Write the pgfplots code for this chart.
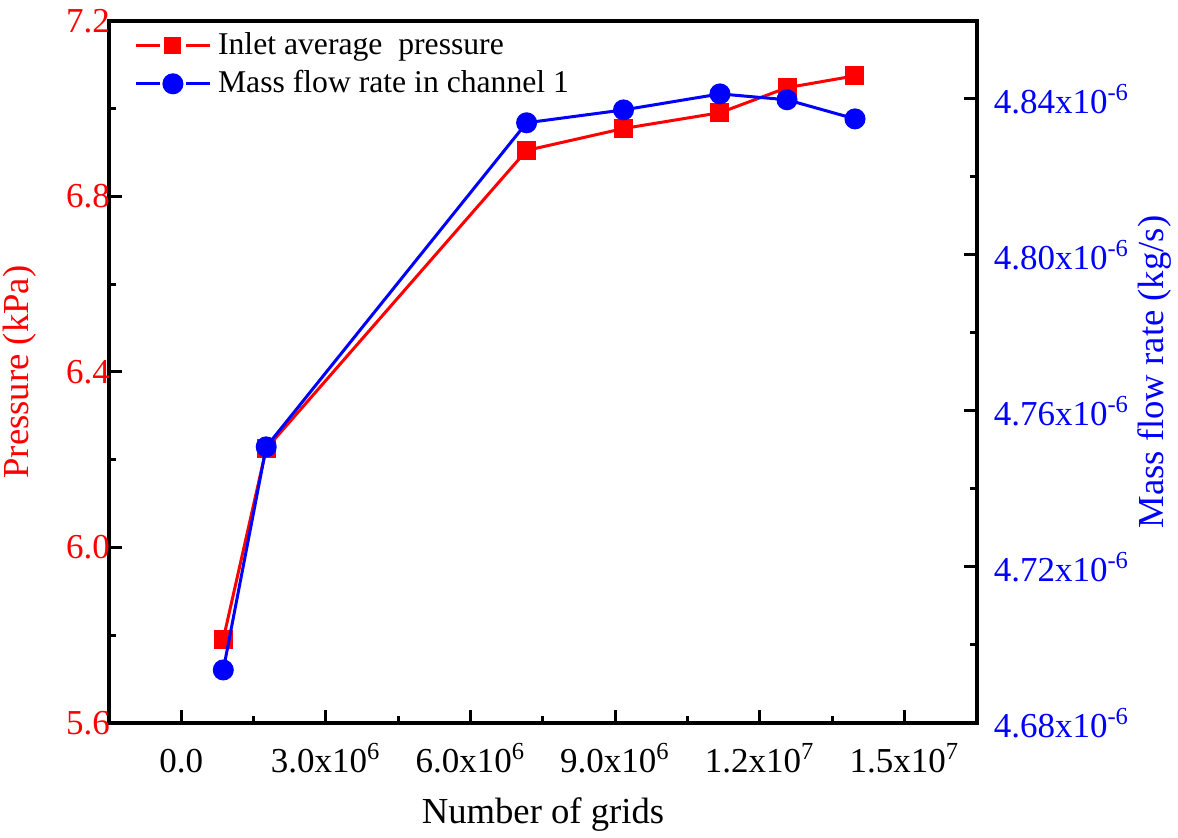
\documentclass[border=0pt]{standalone}
\usepackage{fontspec}
\setmainfont{Liberation Serif}
\usepackage{pgfplots}
\pgfplotsset{compat=1.18}
\definecolor{pred}{RGB}{255,0,0}
\definecolor{mblue}{RGB}{0,0,255}

\begin{document}
\begin{tikzpicture}
\pgfplotsset{
  common/.style={
    scale only axis, width=260.4pt, height=210.6pt,
    xmin=-1.5e6, xmax=16.5e6,
    tick align=inside,
    major tick length=4pt, minor tick length=2.2pt,
    every tick/.style={black, line width=0.9pt},
    axis line style={line width=1pt},
    tick label style={font=\fontsize{10.5}{12}\selectfont},
    label style={font=\fontsize{11}{13}\selectfont},
  },
}
% left axis: pressure
\begin{axis}[common, name=main,
  ymin=5.6, ymax=7.2,
  ytick={5.6,6.0,6.4,6.8,7.2},
  yticklabels={5.6,6.0,6.4,6.8,7.2},
  minor y tick num=1,
  xtick={0,3e6,6e6,9e6,12e6,15e6},
  xticklabels={0.0, 3.0x10\textsuperscript{6}, 6.0x10\textsuperscript{6}, 9.0x10\textsuperscript{6}, 1.2x10\textsuperscript{7}, 1.5x10\textsuperscript{7}},
  minor x tick num=1,
  xtick pos=lower, ytick pos=left,
  scaled x ticks=false,
  yticklabel style={pred, anchor=east, xshift=3.8pt},
  xticklabel style={anchor=base, yshift=-15pt},
  xlabel={Number of grids},
  ylabel={Pressure (kPa)},
  xlabel style={at={(axis description cs:0.5,-0.131)}, anchor=center},
  ylabel style={pred, at={(axis description cs:-0.1025,0.5)}, anchor=center},
]
\addplot[pred, line width=0.9pt, mark=square*, mark size=2.4pt] coordinates {
  (0.87e6,5.791) (1.76e6,6.225) (7.16e6,6.905) (9.17e6,6.955)
  (11.17e6,6.991) (12.56e6,7.048) (13.97e6,7.075)
};
\end{axis}
% right axis: mass flow rate
\begin{axis}[common,
  ymin=4.68e-6, ymax=4.86e-6,
  axis y line*=right, axis x line=none,
  ytick={4.68e-6,4.72e-6,4.76e-6,4.80e-6,4.84e-6},
  yticklabels={4.68x10\textsuperscript{-6}, 4.72x10\textsuperscript{-6}, 4.76x10\textsuperscript{-6}, 4.80x10\textsuperscript{-6}, 4.84x10\textsuperscript{-6}},
  minor y tick num=1,
  scaled y ticks=false,
  yticklabel style={mblue, xshift=1.5pt},
  ylabel={Mass flow rate (kg/s)},
  ylabel style={mblue, at={(axis description cs:1.2051,0.5)}, anchor=center},
  legend style={draw=none, fill=none, font=\fontsize{9.5}{11}\selectfont,
    at={(axis description cs:0.017,1.004)}, anchor=north west,
    legend cell align=left, row sep=-0.7pt,
    nodes={inner xsep=2pt}},
  legend image code/.code={
    \draw (0pt,0pt) -- (7.2pt,0pt);
    \draw (15pt,0pt) -- (22.2pt,0pt);
    \draw plot coordinates {(11.1pt,0pt)};
  },
]
\addlegendimage{pred, line width=0.9pt, mark=square*, mark size=2.1pt}
\addlegendentry{Inlet average\ \ pressure}
\addplot[mblue, line width=0.9pt, mark=*, mark size=2.7pt] coordinates {
  (0.87e6,4.6936e-6) (1.76e6,4.7508e-6) (7.16e6,4.8339e-6) (9.17e6,4.8372e-6)
  (11.17e6,4.8413e-6) (12.56e6,4.8398e-6) (13.97e6,4.8349e-6)
};
\addlegendentry{Mass flow rate in channel 1}
\end{axis}
\pgfresetboundingbox
\useasboundingbox ([shift={(-32.7pt,-34.5pt)}]main.south west) rectangle ([shift={(60.3pt,6.3pt)}]main.north east);
\end{tikzpicture}
\end{document}
